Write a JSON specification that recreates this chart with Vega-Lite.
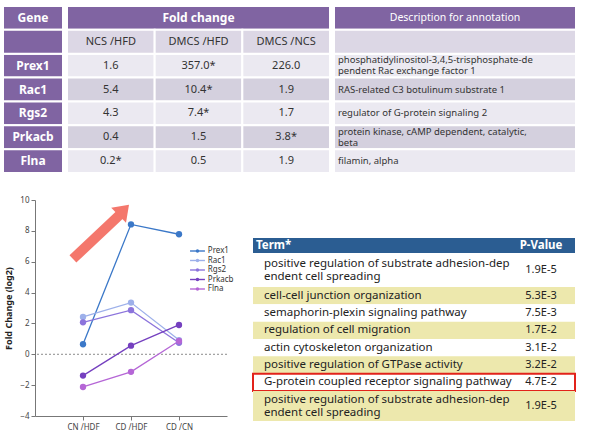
{
  "$schema": "https://vega.github.io/schema/vega-lite/v6.json",
  "background": "white",
  "padding": {"left": 2, "top": 5, "right": 0, "bottom": 0},
  "config": {
    "view": {"stroke": null},
    "font": "Noto Sans",
    "axisY": {"labelOverlap": false, "grid": false, "labelFontSize": 8, "labelColor": "#444", "tickSize": 4, "domainColor": "#777", "tickColor": "#777", "titleFontSize": 9, "titleFontWeight": "bold", "titleColor": "#222", "titlePadding": 6},
    "axisX": {"labelAngle": 0, "labelFontSize": 8, "labelColor": "#444", "domainColor": "#777", "tickColor": "#777", "tickSize": 4, "grid": false, "labelPadding": 3}
  },
  "datasets": {
    "genes": [
      {"gene": "Prex1", "NCS /HFD": "1.6", "DMCS /HFD": "357.0*", "DMCS /NCS": "226.0", "description": "phosphatidylinositol-3,4,5-trisphosphate-de\npendent Rac exchange factor 1"},
      {"gene": "Rac1", "NCS /HFD": "5.4", "DMCS /HFD": "10.4*", "DMCS /NCS": "1.9", "description": "RAS-related C3 botulinum substrate 1"},
      {"gene": "Rgs2", "NCS /HFD": "4.3", "DMCS /HFD": "7.4*", "DMCS /NCS": "1.7", "description": "regulator of G-protein signaling 2"},
      {"gene": "Prkacb", "NCS /HFD": "0.4", "DMCS /HFD": "1.5", "DMCS /NCS": "3.8*", "description": "protein kinase, cAMP dependent, catalytic,\nbeta"},
      {"gene": "Flna", "NCS /HFD": "0.2*", "DMCS /HFD": "0.5", "DMCS /NCS": "1.9", "description": "filamin, alpha"}
    ],
    "foldChange": [
      {"gene": "Prex1", "comparison": "CN /HDF", "log2fc": 0.65},
      {"gene": "Prex1", "comparison": "CD /HDF", "log2fc": 8.42},
      {"gene": "Prex1", "comparison": "CD /CN", "log2fc": 7.78},
      {"gene": "Rac1", "comparison": "CN /HDF", "log2fc": 2.42},
      {"gene": "Rac1", "comparison": "CD /HDF", "log2fc": 3.35},
      {"gene": "Rac1", "comparison": "CD /CN", "log2fc": 0.92},
      {"gene": "Rgs2", "comparison": "CN /HDF", "log2fc": 2.07},
      {"gene": "Rgs2", "comparison": "CD /HDF", "log2fc": 2.86},
      {"gene": "Rgs2", "comparison": "CD /CN", "log2fc": 0.75},
      {"gene": "Prkacb", "comparison": "CN /HDF", "log2fc": -1.38},
      {"gene": "Prkacb", "comparison": "CD /HDF", "log2fc": 0.56},
      {"gene": "Prkacb", "comparison": "CD /CN", "log2fc": 1.9},
      {"gene": "Flna", "comparison": "CN /HDF", "log2fc": -2.12},
      {"gene": "Flna", "comparison": "CD /HDF", "log2fc": -1.14},
      {"gene": "Flna", "comparison": "CD /CN", "log2fc": 0.86}
    ],
    "terms": [
      {"term": "positive regulation of substrate adhesion-dep\nendent cell spreading", "p": "1.9E-5"},
      {"term": "cell-cell junction organization", "p": "5.3E-3"},
      {"term": "semaphorin-plexin signaling pathway", "p": "7.5E-3"},
      {"term": "regulation of cell migration", "p": "1.7E-2"},
      {"term": "actin cytoskeleton organization", "p": "3.1E-2"},
      {"term": "positive regulation of GTPase activity", "p": "3.2E-2"},
      {"term": "G-protein coupled receptor signaling pathway", "p": "4.7E-2"},
      {"term": "positive regulation of substrate adhesion-dep\nendent cell spreading", "p": "1.9E-5"}
    ],
    "arrowShaft": [{"x": 0.79, "y": 6.18}, {"x": 1.77, "y": 9.05}],
    "arrowHead": [{"x": 1.85, "y": 9.35}]
  },
  "spacing": 20,
  "vconcat": [
    {
      "spacing": 2,
      "hconcat": [
        {
          "width": 60, "height": 167,
          "data": {"name": "genes"},
          "layer": [
            {"mark": {"type": "rect", "fill": "#8064a2", "stroke": "white", "strokeWidth": 2},
             "encoding": {"y": {"field": "gene", "type": "nominal", "scale": {"domain": ["head", "sub", "Prex1", "Rac1", "Rgs2", "Prkacb", "Flna"], "paddingInner": 0, "paddingOuter": 0}, "axis": null}}},
            {"data": {"values": [{"k": "head"}, {"k": "sub"}]},
             "mark": {"type": "rect", "fill": "#8064a2", "stroke": "white", "strokeWidth": 2},
             "encoding": {"y": {"field": "k", "type": "nominal"}}},
            {"mark": {"type": "text", "color": "white", "fontWeight": "bold", "fontSize": 12},
             "encoding": {"y": {"field": "gene", "type": "nominal"}, "text": {"field": "gene"}}},
            {"data": {"values": [{"k": "head", "label": "Gene"}]},
             "mark": {"type": "text", "color": "white", "fontWeight": "bold", "fontSize": 12},
             "encoding": {"y": {"field": "k", "type": "nominal"}, "text": {"field": "label"}}}
          ]
        },
        {
          "width": 263, "height": 167,
          "layer": [
            {"data": {"name": "genes"},
             "transform": [{"fold": ["NCS /HFD", "DMCS /HFD", "DMCS /NCS"], "as": ["col", "val"]}],
             "mark": {"type": "rect", "stroke": "white", "strokeWidth": 2},
             "encoding": {
               "x": {"field": "col", "type": "nominal", "scale": {"domain": ["NCS /HFD", "DMCS /HFD", "DMCS /NCS"], "paddingInner": 0, "paddingOuter": 0}, "axis": null},
               "y": {"field": "gene", "type": "nominal", "scale": {"domain": ["head", "sub", "Prex1", "Rac1", "Rgs2", "Prkacb", "Flna"], "paddingInner": 0, "paddingOuter": 0}, "axis": null},
               "fill": {"field": "gene", "type": "nominal", "scale": {"domain": ["Prex1", "Rac1", "Rgs2", "Prkacb", "Flna"], "range": ["#ebe9f1", "#d4d0de", "#ebe9f1", "#d4d0de", "#ebe9f1"]}, "legend": null}
             }},
            {"data": {"values": [{"k": "head"}]},
             "mark": {"type": "rect", "fill": "#8064a2", "stroke": "white", "strokeWidth": 2},
             "encoding": {"y": {"field": "k", "type": "nominal"}}},
            {"data": {"values": [{"k": "sub", "col": "NCS /HFD"}, {"k": "sub", "col": "DMCS /HFD"}, {"k": "sub", "col": "DMCS /NCS"}]},
             "mark": {"type": "rect", "fill": "#dcd7e5", "stroke": "white", "strokeWidth": 2},
             "encoding": {"x": {"field": "col", "type": "nominal"}, "y": {"field": "k", "type": "nominal"}}},
            {"data": {"values": [{"k": "sub", "col": "NCS /HFD"}, {"k": "sub", "col": "DMCS /HFD"}, {"k": "sub", "col": "DMCS /NCS"}]},
             "mark": {"type": "text", "fontSize": 11, "color": "#333"},
             "encoding": {"x": {"field": "col", "type": "nominal"}, "y": {"field": "k", "type": "nominal"}, "text": {"field": "col"}}},
            {"data": {"name": "genes"},
             "transform": [{"fold": ["NCS /HFD", "DMCS /HFD", "DMCS /NCS"], "as": ["col", "val"]}],
             "mark": {"type": "text", "fontSize": 11, "color": "#333"},
             "encoding": {"x": {"field": "col", "type": "nominal"}, "y": {"field": "gene", "type": "nominal"}, "text": {"field": "val"}}},
            {"data": {"values": [{"k": "head", "label": "Fold change"}]},
             "mark": {"type": "text", "color": "white", "fontWeight": "bold", "fontSize": 12},
             "encoding": {"y": {"field": "k", "type": "nominal"}, "text": {"field": "label"}}}
          ]
        },
        {
          "width": 242, "height": 167,
          "layer": [
            {"data": {"name": "genes"},
             "mark": {"type": "rect", "stroke": "white", "strokeWidth": 2},
             "encoding": {
               "y": {"field": "gene", "type": "nominal", "scale": {"domain": ["head", "sub", "Prex1", "Rac1", "Rgs2", "Prkacb", "Flna"], "paddingInner": 0, "paddingOuter": 0}, "axis": null},
               "fill": {"field": "gene", "type": "nominal", "scale": {"domain": ["Prex1", "Rac1", "Rgs2", "Prkacb", "Flna"], "range": ["#ebe9f1", "#d4d0de", "#ebe9f1", "#d4d0de", "#ebe9f1"]}, "legend": null}
             }},
            {"data": {"values": [{"k": "head"}]},
             "mark": {"type": "rect", "fill": "#8064a2", "stroke": "white", "strokeWidth": 2},
             "encoding": {"y": {"field": "k", "type": "nominal"}}},
            {"data": {"values": [{"k": "sub"}]},
             "mark": {"type": "rect", "fill": "#dcd7e5", "stroke": "white", "strokeWidth": 2},
             "encoding": {"y": {"field": "k", "type": "nominal"}}},
            {"data": {"name": "genes"},
             "transform": [{"filter": "indexof(datum.description, '\\n') < 0"}],
             "mark": {"type": "text", "align": "left", "dx": -117, "fontSize": 9.5, "color": "#333"},
             "encoding": {"y": {"field": "gene", "type": "nominal"}, "text": {"field": "description"}}},
            {"data": {"name": "genes"},
             "transform": [{"filter": "indexof(datum.description, '\\n') >= 0"}],
             "mark": {"type": "text", "align": "left", "dx": -117, "dy": -5.5, "fontSize": 9.5, "lineBreak": "\n", "lineHeight": 11, "color": "#333"},
             "encoding": {"y": {"field": "gene", "type": "nominal"}, "text": {"field": "description"}}},
            {"data": {"values": [{"k": "head", "label": "Description  for annotation"}]},
             "mark": {"type": "text", "color": "white", "fontSize": 10.5},
             "encoding": {"y": {"field": "k", "type": "nominal"}, "text": {"field": "label"}}}
          ]
        }
      ]
    },
    {
      "spacing": 18,
      "hconcat": [
        {
          "spacing": 0,
          "hconcat": [
            {"width": 1, "height": 216, "data": {"values": []}, "mark": "text", "encoding": {}},
            {
              "width": 192, "height": 216,
              "layer": [
                {
                  "data": {"name": "foldChange"},
                  "layer": [
                    {"data": {"values": [{"v": 0}]},
                     "mark": {"type": "rule", "color": "#8c8c8c", "strokeDash": [2, 2], "strokeWidth": 1},
                     "encoding": {"y": {"field": "v", "type": "quantitative"}}},
                    {"mark": {"type": "line", "strokeWidth": 1.3},
                     "encoding": {
                       "x": {"field": "comparison", "type": "nominal", "sort": ["CN /HDF", "CD /HDF", "CD /CN"], "scale": {"type": "point", "domain": ["CN /HDF", "CD /HDF", "CD /CN"], "padding": 1}, "title": null},
                       "y": {"field": "log2fc", "type": "quantitative", "scale": {"domain": [-4, 10], "nice": false, "zero": false},
                             "axis": {"values": [-4, -2, 0, 2, 4, 6, 8, 10], "tickCount": 8}, "title": "Fold Change (log2)"},
                       "color": {"field": "gene", "type": "nominal",
                                 "scale": {"domain": ["Prex1", "Rac1", "Rgs2", "Prkacb", "Flna"], "range": ["#3b78c8", "#9db0ea", "#8c74dc", "#7540bf", "#b566d6"]},
                                 "legend": null}
                     }},
                    {"mark": {"type": "point", "filled": true, "size": 40, "opacity": 1},
                     "encoding": {
                       "x": {"field": "comparison", "type": "nominal"},
                       "y": {"field": "log2fc", "type": "quantitative"},
                       "color": {"field": "gene", "type": "nominal", "legend": null}
                     }}
                  ]
                },
                {
                  "layer": [
                    {"data": {"name": "arrowShaft"},
                     "mark": {"type": "line", "color": "#f4776c", "strokeWidth": 10, "strokeCap": "butt"},
                     "encoding": {
                       "x": {"field": "x", "type": "quantitative", "scale": {"domain": [0, 4], "nice": false, "zero": false}, "axis": null},
                       "y": {"field": "y", "type": "quantitative", "scale": {"domain": [-4, 10], "nice": false, "zero": false}, "axis": null}
                     }},
                    {"data": {"name": "arrowHead"},
                     "mark": {"type": "point", "shape": "M-1,0.7L1,0.7L0,-0.7Z", "filled": true, "color": "#f4776c", "size": 440, "angle": 45, "opacity": 1},
                     "encoding": {
                       "x": {"field": "x", "type": "quantitative"},
                       "y": {"field": "y", "type": "quantitative"}
                     }}
                  ]
                },
                {
                  "data": {"name": "genes"},
                  "encoding": {
                    "y": {"field": "gene", "type": "nominal", "scale": {"type": "point", "domain": ["Prex1", "Rac1", "Rgs2", "Prkacb", "Flna"], "range": [51, 89], "padding": 0}, "axis": null}
                  },
                  "layer": [
                    {"mark": {"type": "rule", "strokeWidth": 1.4},
                     "encoding": {
                       "x": {"datum": 3.23, "type": "quantitative", "scale": {"domain": [0, 4], "nice": false, "zero": false}, "axis": null},
                       "x2": {"datum": 3.54},
                       "color": {"field": "gene", "type": "nominal", "legend": null}
                     }},
                    {"mark": {"type": "point", "filled": true, "size": 12, "opacity": 1},
                     "encoding": {
                       "x": {"datum": 3.385, "type": "quantitative"},
                       "color": {"field": "gene", "type": "nominal", "legend": null}
                     }},
                    {"mark": {"type": "text", "align": "left", "fontSize": 8, "color": "#333"},
                     "encoding": {
                       "x": {"datum": 3.6, "type": "quantitative"},
                       "text": {"field": "gene"}
                     }}
                  ]
                }
              ],
              "resolve": {"scale": {"x": "independent", "y": "independent"}}
            }
          ]
        },
        {
          "spacing": 0,
          "bounds": "flush",
          "vconcat": [
            {"width": 322, "height": 38, "data": {"values": []}, "mark": "text", "encoding": {}},
            {
              "width": 322, "height": 15,
              "data": {"values": [{"k": "h"}]},
              "layer": [
                {"mark": {"type": "rect", "fill": "#2b5d92"}, "encoding": {"y": {"field": "k", "type": "nominal", "scale": {"paddingInner": 0, "paddingOuter": 0}, "axis": null}}},
                {"mark": {"type": "text", "color": "white", "fontWeight": "bold", "fontSize": 11.5, "align": "left", "dx": -8},
                 "encoding": {"x": {"datum": "Term*", "type": "nominal", "scale": {"type": "point", "domain": ["Term*", "P-Value"], "padding": 0.081, "align": 0.244}, "axis": null}, "y": {"field": "k", "type": "nominal"}, "text": {"value": "Term*"}}},
                {"mark": {"type": "text", "color": "white", "fontWeight": "bold", "fontSize": 11.5},
                 "encoding": {"x": {"datum": "P-Value", "type": "nominal"}, "y": {"field": "k", "type": "nominal"}, "text": {"value": "P-Value"}}}
              ]
            },
            {
              "width": 322, "height": 34,
              "data": {"name": "terms"},
              "transform": [{"window": [{"op": "row_number", "as": "r"}]}, {"filter": "datum.r == 1"}],
              "layer": [
                {"mark": {"type": "rect"},
                 "encoding": {
                   "y": {"field": "r", "type": "ordinal", "scale": {"paddingInner": 0, "paddingOuter": 0}, "axis": null},
                   "fill": {"condition": {"test": "datum.r % 2 == 0", "value": "#ede8ad"}, "value": "white"}
                 }},
                {"mark": {"type": "text", "align": "left", "fontSize": 11.5, "lineBreak": "\n", "lineHeight": 13, "dy": -6.5, "color": "#222"},
                 "encoding": {
                   "x": {"datum": "Term*", "type": "nominal", "scale": {"type": "point", "domain": ["Term*", "P-Value"], "padding": 0.081, "align": 0.244}, "axis": null},
                   "y": {"field": "r", "type": "ordinal"},
                   "text": {"field": "term"}
                 }},
                {"mark": {"type": "text", "fontSize": 11, "color": "#222"},
                 "encoding": {"x": {"datum": "P-Value", "type": "nominal"}, "y": {"field": "r", "type": "ordinal"}, "text": {"field": "p"}}}
              ]
            },
            {
              "width": 322, "height": 104,
              "data": {"name": "terms"},
              "transform": [{"window": [{"op": "row_number", "as": "r"}]}, {"filter": "datum.r >= 2 && datum.r <= 7"}],
              "layer": [
                {"mark": {"type": "rect"},
                 "encoding": {
                   "y": {"field": "r", "type": "ordinal", "scale": {"paddingInner": 0, "paddingOuter": 0}, "axis": null},
                   "fill": {"condition": {"test": "datum.r % 2 == 0", "value": "#ede8ad"}, "value": "white"}
                 }},
                {"mark": {"type": "text", "align": "left", "fontSize": 11.5, "color": "#222"},
                 "encoding": {
                   "x": {"datum": "Term*", "type": "nominal", "scale": {"type": "point", "domain": ["Term*", "P-Value"], "padding": 0.081, "align": 0.244}, "axis": null},
                   "y": {"field": "r", "type": "ordinal"},
                   "text": {"field": "term"}
                 }},
                {"mark": {"type": "text", "fontSize": 11, "color": "#222"},
                 "encoding": {"x": {"datum": "P-Value", "type": "nominal"}, "y": {"field": "r", "type": "ordinal"}, "text": {"field": "p"}}},
                {"transform": [{"filter": "datum.term == 'G-protein coupled receptor signaling pathway'"}],
                 "mark": {"type": "rect", "fill": "transparent", "stroke": "#e2231a", "strokeWidth": 2},
                 "encoding": {"y": {"field": "r", "type": "ordinal"}}}
              ]
            },
            {
              "width": 322, "height": 30,
              "data": {"name": "terms"},
              "transform": [{"window": [{"op": "row_number", "as": "r"}]}, {"filter": "datum.r == 8"}],
              "layer": [
                {"mark": {"type": "rect"},
                 "encoding": {
                   "y": {"field": "r", "type": "ordinal", "scale": {"paddingInner": 0, "paddingOuter": 0}, "axis": null},
                   "fill": {"condition": {"test": "datum.r % 2 == 0", "value": "#ede8ad"}, "value": "white"}
                 }},
                {"mark": {"type": "text", "align": "left", "fontSize": 11.5, "lineBreak": "\n", "lineHeight": 13, "dy": -6.5, "color": "#222"},
                 "encoding": {
                   "x": {"datum": "Term*", "type": "nominal", "scale": {"type": "point", "domain": ["Term*", "P-Value"], "padding": 0.081, "align": 0.244}, "axis": null},
                   "y": {"field": "r", "type": "ordinal"},
                   "text": {"field": "term"}
                 }},
                {"mark": {"type": "text", "fontSize": 11, "color": "#222"},
                 "encoding": {"x": {"datum": "P-Value", "type": "nominal"}, "y": {"field": "r", "type": "ordinal"}, "text": {"field": "p"}}}
              ]
            }
          ]
        }
      ]
    }
  ]
}
